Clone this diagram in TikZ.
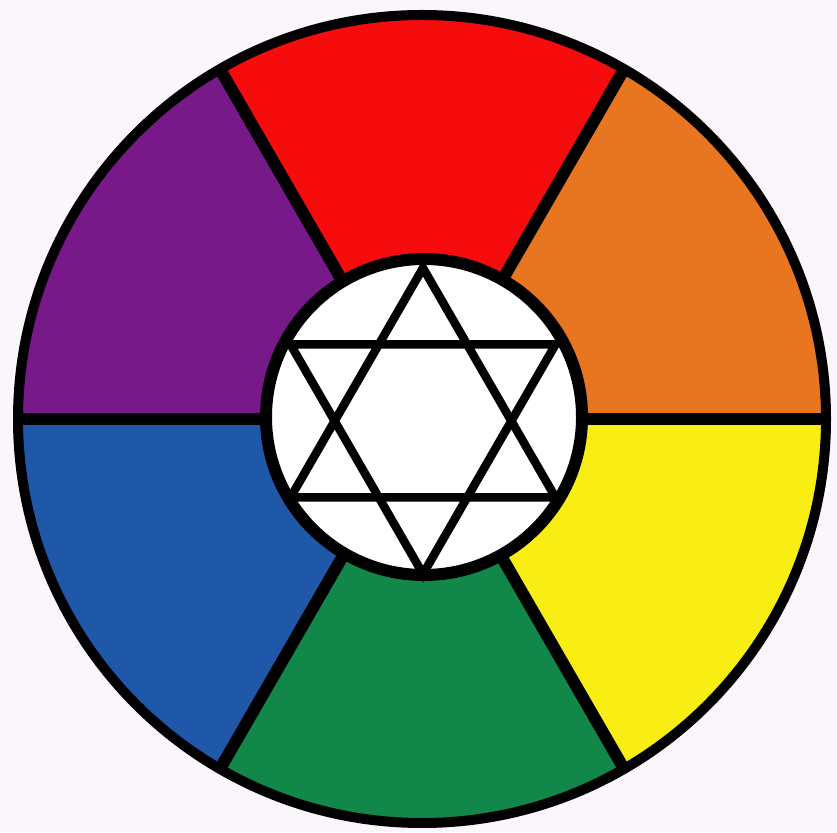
\documentclass[tikz,border=0pt]{standalone}
\usepackage{xcolor}
\usetikzlibrary{calc}

\definecolor{paper}{HTML}{FBF6FB}
\definecolor{wheelred}{HTML}{F60C0C}
\definecolor{wheelorange}{HTML}{E8751F}
\definecolor{wheelyellow}{HTML}{F8EE14}
\definecolor{wheelgreen}{HTML}{11874A}
\definecolor{wheelblue}{HTML}{1F58A8}
\definecolor{wheelpurple}{HTML}{78198A}

\begin{document}
\begin{tikzpicture}[
    x=1pt, y=1pt,
    rim/.style={draw=black, line width=10pt},
    spoke/.style={draw=black, line width=12pt},
    hub/.style={draw=black, fill=white, line width=12pt},
    hexagram/.style={draw=black, line width=8.5pt, line join=miter}
]
    \fill[paper] (0,0) rectangle (837,832);
    \useasboundingbox (0,0) rectangle (837,832);

    \coordinate (wc) at (422,413);
    \coordinate (hc) at (424,415);
    \coordinate (sc) at (423,411);

    % colour sectors
    \foreach \a/\col in {0/wheelorange, 60/wheelred, 120/wheelpurple,
                         180/wheelblue, 240/wheelgreen, 300/wheelyellow}
        \fill[\col] (wc) -- ($(wc)+(\a:404)$) arc[start angle=\a, end angle=\a+60, radius=404] -- cycle;

    % spokes
    \foreach \a in {0,60,...,300}
        \draw[spoke] (wc) -- ($(wc)+(\a:404)$);

    \draw[rim] (wc) circle[radius=404];

    % hub with star
    \draw[hub] (hc) circle[radius=158];
    \draw[hexagram] ($(sc)+(90:153)$) -- ($(sc)+(210:153)$) -- ($(sc)+(330:153)$) -- cycle;
    \draw[hexagram] ($(sc)+(270:153)$) -- ($(sc)+(30:153)$) -- ($(sc)+(150:153)$) -- cycle;
\end{tikzpicture}
\end{document}
